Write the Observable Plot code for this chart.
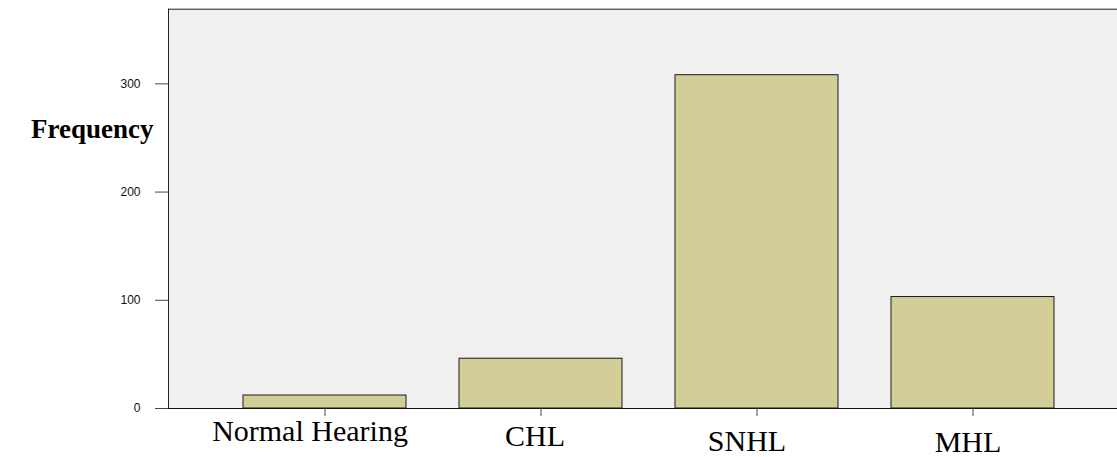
<!DOCTYPE html>
<html><head><meta charset="utf-8">
<script src="https://cdn.jsdelivr.net/npm/d3@7"></script>
<script src="https://cdn.jsdelivr.net/npm/@observablehq/plot@0.6"></script>
<style>body{margin:0;background:#fff;overflow:hidden}</style>
</head><body><div id="chart"></div>
<script>
const categories = ["Normal Hearing", "CHL", "SNHL", "MHL"];
const frequencies = [12, 46, 308, 103];
const yTicks = [0, 100, 200, 300];
const yLabel = "Frequency";

const data = categories.map((c, i) => ({category: c, frequency: frequencies[i]}));

// label styling offsets (per-label vertical/horizontal shifts as in the original)
const labelStyle = [
  {dy: 11, dx: -15},
  {dy: 16, dx: -6},
  {dy: 21, dx: -10},
  {dy: 22, dx: -5}
];

const serif = "'Liberation Serif', 'Times New Roman', serif";
const sans = "'Liberation Sans', Arial, sans-serif";

const chart = Plot.plot({
  width: 1117,
  height: 457,
  marginLeft: 168,
  marginRight: 0,
  marginTop: 8.7,
  marginBottom: 49,
  style: {background: "#fff", overflow: "hidden"},
  x: {domain: categories, range: [168, 1129], paddingInner: 0.247, paddingOuter: 0.343, align: 0.5},
  y: {domain: [0, 369]},
  marks: [
    Plot.frame({fill: "#f0f0f0", stroke: null}),
    Plot.frame({anchor: "left", stroke: "#222"}),
    Plot.frame({anchor: "top", stroke: "#222"}),
    Plot.barY(data, {x: "category", y: "frequency", fill: "#d3ce97", stroke: "#1a1a1a", strokeWidth: 1, inset: 0}),
    Plot.ruleY([0], {stroke: "#111"}),
    Plot.axisY({ticks: yTicks, tickSize: 13, tickPadding: 15, fontSize: 12, fontFamily: sans, stroke: "#444", color: "#111", label: null}),
    Plot.axisX({tickSize: 8, tickFormat: () => "", stroke: "#444", label: null}),
    ...categories.map((c, i) => Plot.axisX({
      ticks: [c], tickSize: 0, tickPadding: labelStyle[i].dy, dx: labelStyle[i].dx,
      fontSize: 30, fontFamily: serif, color: "#000", label: null
    })),
    Plot.text([yLabel], {frameAnchor: "top-left", textAnchor: "end", dx: -15, dy: 109.5,
      fontSize: 27, fontWeight: "bold", fontFamily: serif, fill: "#000"})
  ]
});
document.getElementById("chart").appendChild(chart);
</script>
</body></html>
